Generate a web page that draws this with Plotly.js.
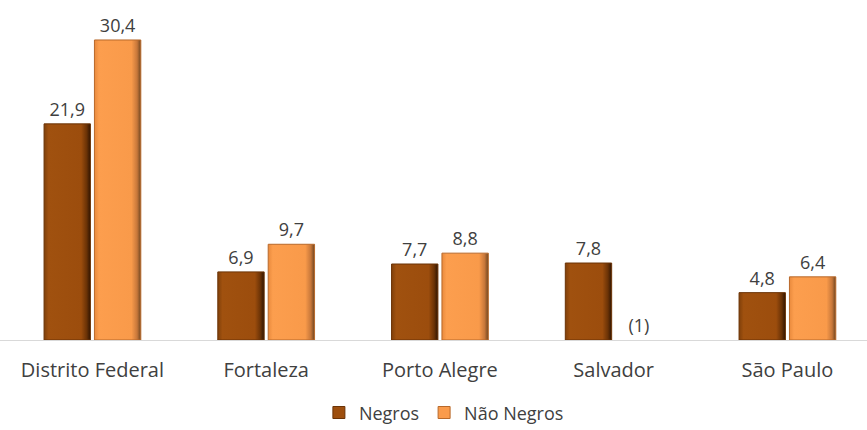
<!DOCTYPE html>
<html><head><meta charset="utf-8">
<script src="https://cdn.plot.ly/plotly-3.0.1.min.js"></script>
<style>html,body{margin:0;padding:0;background:#fff}#c{width:867px;height:430px}</style>
</head><body><div id="c"></div>
<script>
const categories = ["Distrito Federal", "Fortaleza", "Porto Alegre", "Salvador", "São Paulo"];
const negros = [21.9, 6.9, 7.7, 7.8, 4.8];
const naoNegros = [30.4, 9.7, 8.8, 0, 6.4];
const negrosLabels = ["21,9", "6,9", "7,7", "7,8", "4,8"];
const naoNegrosLabels = ["30,4", "9,7", "8,8", "(1)", "6,4"];

const FONT = "Open Sans, Noto Sans, sans-serif";
const traces = [
  {type: "bar", name: "Negros", x: categories, y: negros, text: negrosLabels,
   textposition: "outside", cliponaxis: false, textfont: {size: 18, color: "#404040"},
   marker: {color: "#9E4F0E", line: {color: "#6B3306", width: 1}}, hoverinfo: "skip"},
  {type: "bar", name: "Não Negros", x: categories, y: naoNegros, text: naoNegrosLabels,
   textposition: "outside", cliponaxis: false, textfont: {size: 18, color: "#404040"},
   marker: {color: "#FA9B4B", line: {color: "#B8692A", width: naoNegros.map(function (v) { return v > 0 ? 1 : 0; })}},
   hoverinfo: "skip"}
];
const layout = {
  width: 867, height: 430, font: {family: FONT, size: 18, color: "#404040"}, separators: ",.",
  margin: {l: 0, r: 0, t: 0, b: 90, autoexpand: false},
  barmode: "group", bargap: 0.42, bargroupgap: 0.08,
  paper_bgcolor: "#fff", plot_bgcolor: "#fff",
  xaxis: {range: [-0.532, 4.458], automargin: false, showline: true, linecolor: "#D9D9D9", linewidth: 1,
          ticks: "outside", ticklen: 12, tickcolor: "rgba(0,0,0,0)", tickfont: {size: 20, color: "#404040"},
          fixedrange: true},
  yaxis: {range: [0, 34.45], visible: false, showgrid: false, zeroline: false, fixedrange: true},
  showlegend: true,
  legend: {orientation: "h", x: 0.512, xanchor: "center", yref: "container", y: 0.04, yanchor: "middle",
           font: {size: 18, color: "#404040"}, itemwidth: 30, traceorder: "normal"}
};
Plotly.newPlot("c", traces, layout, {displayModeBar: false, staticPlot: true}).then(function (gd) {
  const svg = gd.querySelector("svg.main-svg");
  const ns = "http://www.w3.org/2000/svg";
  let defs = svg.querySelector("defs");
  function grad(id, stops) {
    const g = document.createElementNS(ns, "linearGradient");
    g.setAttribute("id", id); g.setAttribute("x1", "0"); g.setAttribute("x2", "1");
    g.setAttribute("y1", "0"); g.setAttribute("y2", "0");
    stops.forEach(function (s) {
      const st = document.createElementNS(ns, "stop");
      st.setAttribute("offset", s[0]); st.setAttribute("stop-color", s[1]);
      g.appendChild(st);
    });
    defs.appendChild(g);
  }
  grad("gNeg", [["0", "#80400A"], ["0.1", "#A0510F"], ["0.8", "#9C4D0D"], ["0.92", "#6A3206"], ["1", "#2E1402"]]);
  grad("gNao", [["0", "#E98A3D"], ["0.1", "#FC9E4E"], ["0.8", "#F99A4A"], ["0.92", "#C7773A"], ["1", "#6E4520"]]);
  const ids = ["gNeg", "gNao"];
  gd.querySelectorAll(".barlayer .trace").forEach(function (t, i) {
    t.querySelectorAll("path").forEach(function (p) { p.style.fill = "url(#" + ids[i] + ")"; });
  });
});
</script></body></html>
